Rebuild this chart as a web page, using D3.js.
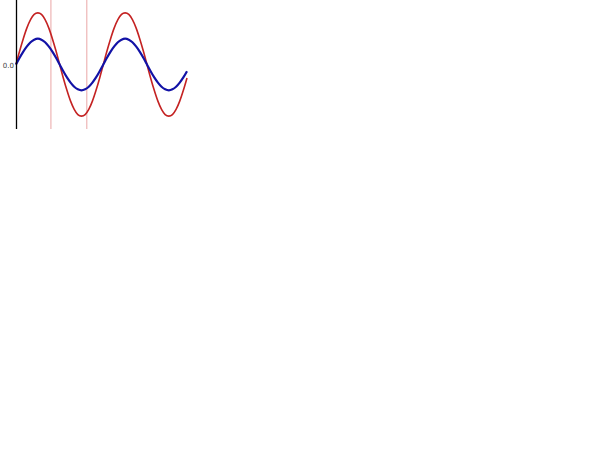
<!DOCTYPE html>
<html>
<head>
<meta charset="utf-8">
<script src="https://cdn.jsdelivr.net/npm/d3@7"></script>
<style>
  body { margin: 0; background: #fff; }
  svg { display: block; }
</style>
</head>
<body>
<div id="chart"></div>
<script>
// phase in degrees, sampled every 15 degrees
var angles = [0, 15, 30, 45, 60, 75, 90, 105, 120, 135, 150, 165,
  180, 195, 210, 225, 240, 255, 270, 285, 300, 315, 330, 345,
  360, 375, 390, 405, 420, 435, 450, 465, 480, 495, 510, 525,
  540, 555, 570, 585, 600, 615, 630, 645, 660, 675, 690, 705]

var redValues = [0, 0.26, 0.5, 0.71, 0.87, 0.97, 1, 0.97, 0.87, 0.71, 0.5, 0.26,
  0, -0.26, -0.5, -0.71, -0.87, -0.97, -1, -0.97, -0.87, -0.71, -0.5, -0.26,
  0, 0.26, 0.5, 0.71, 0.87, 0.97, 1, 0.97, 0.87, 0.71, 0.5, 0.26,
  0, -0.26, -0.5, -0.71, -0.87, -0.97, -1, -0.97, -0.87, -0.71, -0.5, -0.26]

var blueValues = [0, 0.13, 0.25, 0.35, 0.43, 0.48, 0.5, 0.48, 0.43, 0.35, 0.25, 0.13,
  0, -0.13, -0.25, -0.35, -0.43, -0.48, -0.5, -0.48, -0.43, -0.35, -0.25, -0.13,
  0, 0.13, 0.25, 0.35, 0.43, 0.48, 0.5, 0.48, 0.43, 0.35, 0.25, 0.13,
  0, -0.13, -0.25, -0.35, -0.43, -0.48, -0.5, -0.48, -0.43, -0.35, -0.25, -0.13]

var markers = [144, 292]
var yTicks = [0]

var width = 603, height = 452

var svg = d3.select("#chart")
  .append("svg")
  .attr("width", width)
  .attr("height", height)

var x = d3.scaleLinear().domain([0, 705]).range([16, 187])
var y = d3.scaleLinear().domain([-1.25, 1.25]).range([129, 0])

// marker lines
svg.selectAll("line.marker")
  .data(markers)
  .enter().append("line")
  .attr("class", "marker")
  .attr("x1", d => x(d)).attr("x2", d => x(d))
  .attr("y1", 0).attr("y2", 129)
  .attr("stroke", "#eaa6a6")
  .attr("stroke-width", 1)

var line = d3.line()
  .x(d => x(d[0]))
  .y(d => y(d[1]))
  .curve(d3.curveCardinal)

svg.append("path")
  .datum(d3.zip(angles, redValues))
  .attr("d", line)
  .attr("fill", "none")
  .attr("stroke", "#c42222")
  .attr("stroke-width", 1.6)

svg.append("path")
  .datum(d3.zip(angles, blueValues))
  .attr("d", line)
  .attr("fill", "none")
  .attr("stroke", "#1212a6")
  .attr("stroke-width", 2.2)

// y axis: bare line with the zero label
svg.append("line")
  .attr("x1", 16.5).attr("x2", 16.5)
  .attr("y1", 0).attr("y2", 129)
  .attr("stroke", "#000")
  .attr("stroke-width", 1.3)

svg.selectAll("text.ytick")
  .data(yTicks)
  .enter().append("text")
  .attr("class", "ytick")
  .attr("x", 14)
  .attr("y", d => y(d) + 3)
  .attr("text-anchor", "end")
  .attr("font-family", "DejaVu Sans, sans-serif")
  .attr("font-size", 7)
  .attr("fill", "#444")
  .text(d => d.toFixed(1))
</script>
</body>
</html>
